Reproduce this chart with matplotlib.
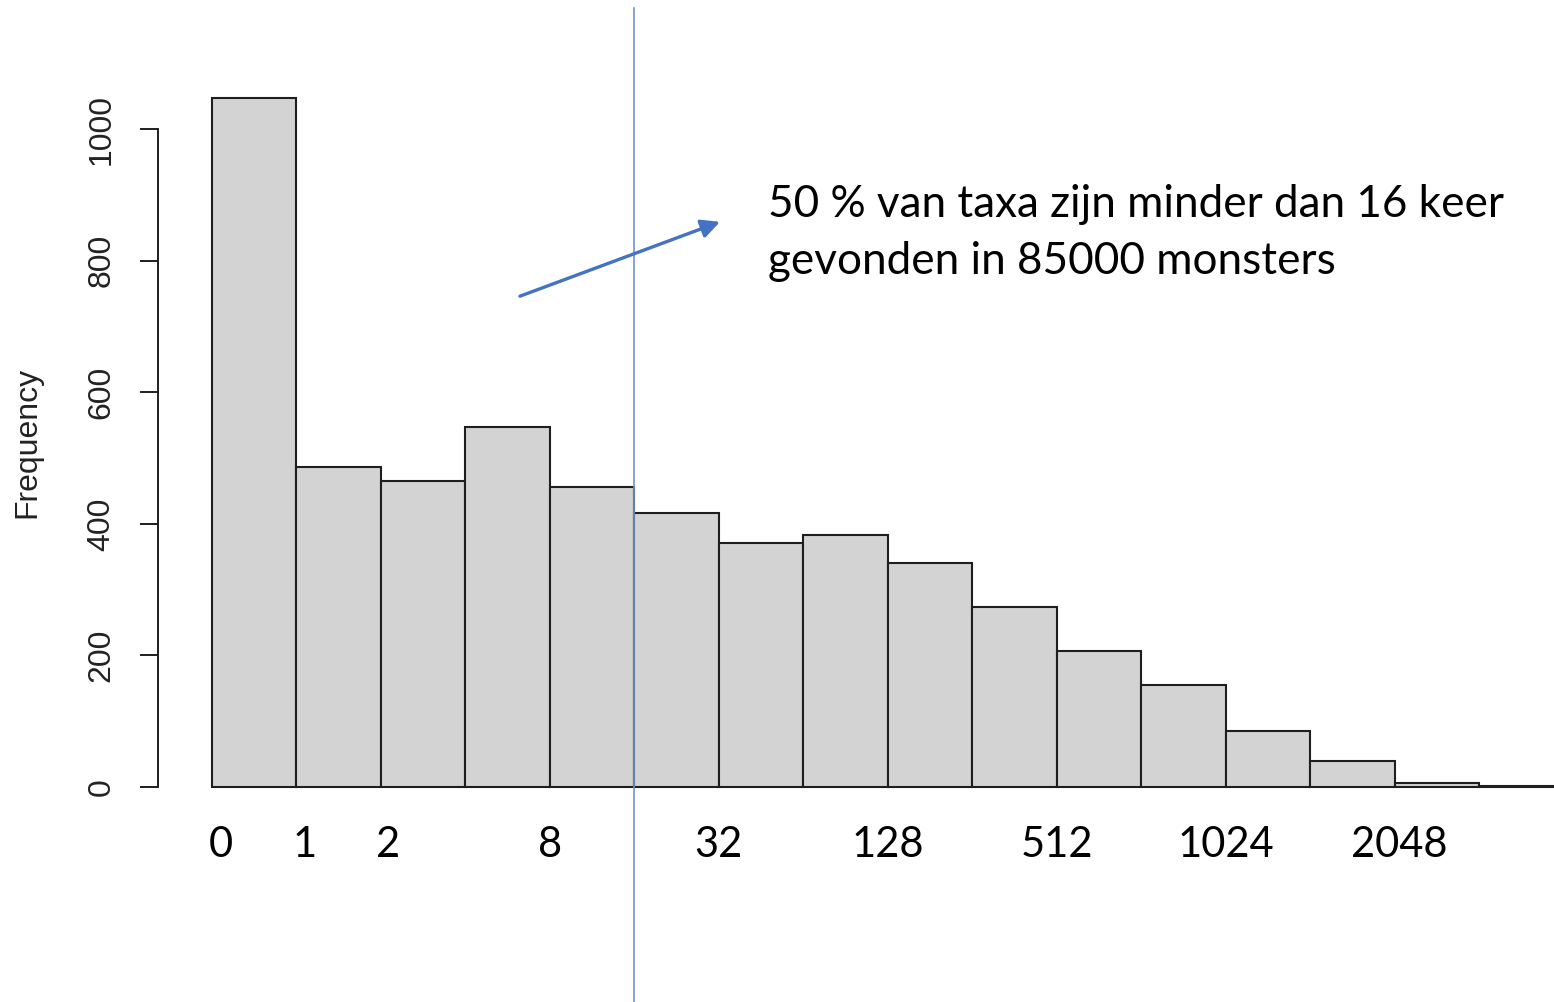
import matplotlib.pyplot as plt
import numpy as np

# histogram counts per log2 bin
counts = [1047, 486, 465, 547, 456, 416, 371, 383, 340, 274, 207, 155, 85, 40, 6, 2]

# hand-placed x labels and their bin positions
tick_pos = [0.1, 1.1, 2.08, 4.0, 6.0, 8.0, 10.0, 12.0, 14.06]
tick_labels = ['0', '1', '2', '8', '32', '128', '512', '1024', '2048']

y_ticks = [0, 200, 400, 600, 800, 1000]
median_bin = 5.0   # edge at 16

note_line1 = '50 % van taxa zijn minder dan 16 keer'
note_line2 = 'gevonden in 85000 monsters'

# figure with plot region laid out like the R output
fig = plt.figure(figsize=(15.54, 10.02), dpi=100)
fig.set_facecolor('white')
ax = fig.add_axes([158 / 1554, 215 / 1002, 1396 / 1554, 727 / 1002])
ax.set_xlim(-0.639, 15.887)
ax.set_ylim(0, 1105)

bins = np.arange(len(counts))
ax.bar(bins, counts, width=1.0, align='edge', color='#d3d3d3',
       edgecolor='#1e1e1e', linewidth=1.5, clip_on=False, zorder=2)

# R style axis: only the left spine, limited to the tick range
for side in ['top', 'right', 'bottom']:
    ax.spines[side].set_visible(False)
ax.spines['left'].set_bounds(0, 1000)
ax.spines['left'].set_linewidth(1.4)
ax.spines['left'].set_color('#1e1e1e')

ax.set_yticks(y_ticks)
ax.set_yticklabels([str(v) for v in y_ticks], rotation=90, va='center',
                   fontsize=23, family='Liberation Sans', color='#222222')
ax.tick_params(axis='y', length=13, width=1.4, color='#1e1e1e', pad=17)

ax.set_xticks(tick_pos)
ax.set_xticklabels(tick_labels, fontsize=30, family='Lato', color='black')
ax.tick_params(axis='x', length=0, pad=28)

ax.text(-0.0938, 0.4746, 'Frequency', transform=ax.transAxes, rotation=90,
        ha='center', va='center', fontsize=23, family='Liberation Sans',
        color='#222222')

# vertical line at the median, running past the plot region
ax.axvline(median_bin, ymin=-0.296, ymax=1.0715, color='#6f93d2',
           linewidth=1.2, clip_on=False, zorder=3)

# arrow and note
ax.annotate('', xy=(6.014, 859), xytext=(3.646, 746),
            arrowprops=dict(arrowstyle='-|>', color='#4472c4', lw=2.4,
                            mutation_scale=28, shrinkA=0, shrinkB=0),
            zorder=4)
ax.text(6.582, 866, note_line1, fontsize=31.7, family='Lato', color='black',
        ha='left', va='baseline')
ax.text(6.582, 779.6, note_line2, fontsize=31.7, family='Lato', color='black',
        ha='left', va='baseline')

fig.savefig('out.png', dpi=100)
plt.close()
